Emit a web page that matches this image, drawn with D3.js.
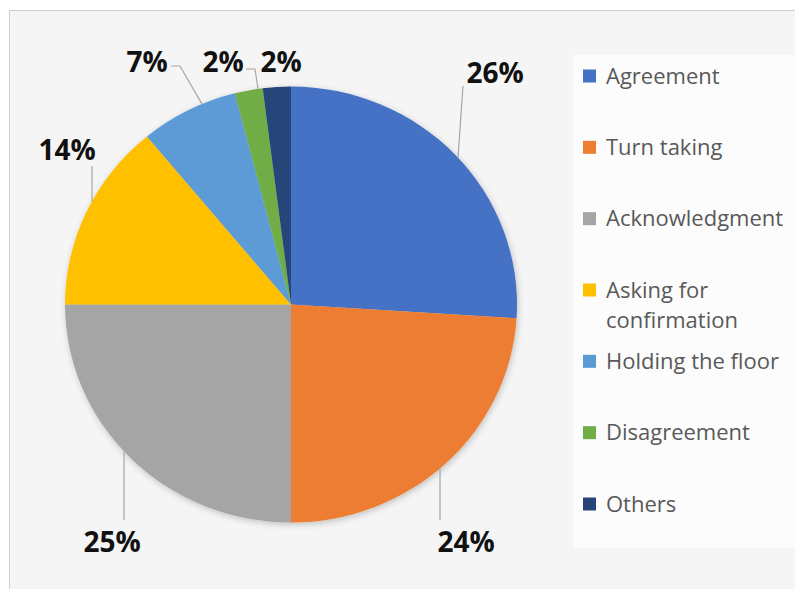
<!DOCTYPE html>
<html>
<head>
<meta charset="utf-8">
<script src="https://cdn.jsdelivr.net/npm/d3@7"></script>
<style>
  html, body { margin: 0; padding: 0; background: #ffffff; }
  svg { display: block; }
</style>
</head>
<body>
<svg id="chart" width="795" height="589"></svg>
<script>
// Share of each discourse function (percent)
const categories = ["Agreement", "Turn taking", "Acknowledgment", "Asking for confirmation",
                    "Holding the floor", "Disagreement", "Others"];
const values = [26, 24, 25, 14, 7, 2, 2];
const colors = ["#4472C4", "#ED7D31", "#A5A5A5", "#FFC000", "#5B9BD5", "#70AD47", "#264478"];
const legendLines = [["Agreement"], ["Turn taking"], ["Acknowledgment"], ["Asking for", "confirmation"],
                     ["Holding the floor"], ["Disagreement"], ["Others"]];

const svg = d3.select("#chart");

// frame and panels
svg.append("rect").attr("x", 9.5).attr("y", 10.5).attr("width", 800).attr("height", 600)
  .attr("fill", "#f5f5f5").attr("stroke", "#cfcfcf").attr("stroke-width", 1);
svg.append("rect").attr("x", 573).attr("y", 55).attr("width", 230).attr("height", 493)
  .attr("fill", "#fcfcfc");

// soft shadow under the pie
const defs = svg.append("defs");
const f = defs.append("filter").attr("id", "shadow")
  .attr("x", "-10%").attr("y", "-10%").attr("width", "120%").attr("height", "120%");
f.append("feDropShadow").attr("dx", 1).attr("dy", 2).attr("stdDeviation", 3)
  .attr("flood-color", "#000").attr("flood-opacity", 0.22);

// pie geometry (slightly wider than tall)
const cx = 291, cy = 304.5, rx = 226, ry = 218;
const pie = d3.pie().sort(null).value(d => d);
const arcs = pie(values);
const arc = d3.arc().innerRadius(0).outerRadius(ry);

const pieG = svg.append("g")
  .attr("transform", `translate(${cx},${cy}) scale(${rx / ry},1)`)
  .attr("filter", "url(#shadow)");
pieG.selectAll("path").data(arcs).join("path")
  .attr("d", arc)
  .attr("fill", (d, i) => colors[i]);

// point on the pie rim at a given x (upper or lower half)
function rimY(x, upper) {
  const t = (x - cx) / rx;
  const h = ry * Math.sqrt(Math.max(0, 1 - t * t));
  return upper ? cy - h : cy + h;
}

// data label placement: text anchor, leader path start / elbow, rim x
const labelLayout = [
  { x: 495, y: 83, lead: [[463, 86]], rimX: 458, upper: true },
  { x: 466, y: 552, lead: [[440, 520]], rimX: 440, upper: false },
  { x: 112, y: 552, lead: [[124, 520]], rimX: 124, upper: false },
  { x: 67, y: 160, lead: [[92, 166]], rimX: 92, upper: true },
  { x: 147, y: 72, lead: [[171, 66], [180, 66]], rimX: 202, upper: true },
  { x: 223, y: 72, lead: [[246, 69], [255, 69]], rimX: 258, upper: true },
  { x: 281, y: 72, lead: null }
];

const lineGen = d3.line();
arcs.forEach((a, i) => {
  const L = labelLayout[i];
  if (L.lead) {
    const pts = L.lead.concat([[L.rimX, rimY(L.rimX, L.upper)]]);
    svg.append("path").attr("d", lineGen(pts))
      .attr("fill", "none").attr("stroke", "#a6a6a6").attr("stroke-width", 1.2);
  }
  svg.append("text")
    .attr("x", L.x).attr("y", L.y)
    .attr("text-anchor", "middle")
    .attr("font-family", "'Open Sans', sans-serif")
    .attr("font-weight", 700)
    .attr("font-size", 28)
    .attr("fill", "#111")
    .text(values[i] + "%");
});

// legend
const legendY = d3.scaleLinear().domain([0, categories.length - 1]).range([76, 504]);
const lg = svg.append("g");
categories.forEach((c, i) => {
  const y = legendY(i);
  lg.append("rect").attr("x", 583).attr("y", y - 6.5).attr("width", 13).attr("height", 13)
    .attr("fill", colors[i]);
  legendLines[i].forEach((line, j) => {
    lg.append("text")
      .attr("x", 606).attr("y", y + 7.5 + j * 30)
      .attr("font-family", "'Open Sans', sans-serif")
      .attr("font-size", 22)
      .attr("fill", "#595959")
      .text(line);
  });
});
</script>
</body>
</html>
